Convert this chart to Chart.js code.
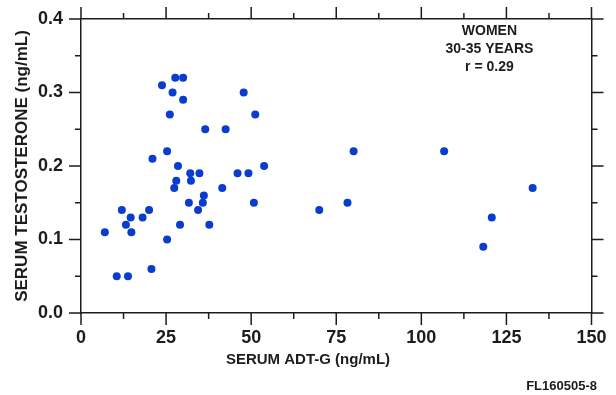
<!DOCTYPE html>
<html>
<head>
<meta charset="utf-8">
<script src="https://cdn.jsdelivr.net/npm/chart.js@4"></script>
<style>
  body { margin: 0; background: #fff; }
  #wrap { width: 616px; height: 395px; }
</style>
</head>
<body>
<div id="wrap"><canvas id="chart" width="616" height="395"></canvas></div>
<script>
// serum ADT-G (ng/mL) vs serum testosterone (ng/mL), women 30-35 years
const adtG = [
	27.7, 30.0, 23.8, 26.9, 30.0, 47.8, 26.1, 51.2, 36.5, 42.5,
	25.3, 21.0, 28.5, 53.8, 32.1, 34.8, 46.0, 49.2, 28.0, 32.3,
	27.4, 41.5, 36.1, 31.7, 35.8, 50.8, 12.0, 20.0, 34.4, 14.6,
	18.1, 13.2, 29.1, 37.7, 7.0, 14.8, 25.3, 20.7, 10.5, 13.8,
	80.1, 106.7, 70.0, 78.3, 120.7, 118.2, 132.7,
];
const testosterone = [
	0.32, 0.32, 0.31, 0.30, 0.29, 0.30, 0.27, 0.27, 0.25, 0.25,
	0.22, 0.21, 0.20, 0.20, 0.19, 0.19, 0.19, 0.19, 0.18, 0.18,
	0.17, 0.17, 0.16, 0.15, 0.15, 0.15, 0.14, 0.14, 0.14, 0.13,
	0.13, 0.12, 0.12, 0.12, 0.11, 0.11, 0.10, 0.06, 0.05, 0.05,
	0.22, 0.22, 0.14, 0.15, 0.13, 0.09, 0.17,
];
const xTicks = [0, 25, 50, 75, 100, 125, 150];
const yTicks = [0.0, 0.1, 0.2, 0.3, 0.4];
const noteLines = ["WOMEN", "30-35 YEARS", "r = 0.29"];
const figCode = "FL160505-8";

const FONT = "'Liberation Sans', Arial, Helvetica, sans-serif";
const INK = "#1c1c1c";
const DOT = "#0a3ccf";

const points = adtG.map((x, i) => ({ x: x, y: testosterone[i] }));

// outward tick marks on all four sides, major + minor
const frameTicks = {
	id: "frameTicks",
	afterDraw(chart) {
		const ctx = chart.ctx;
		const s = chart.scales;
		const major = 12;
		const minor = 6;
		ctx.save();
		ctx.strokeStyle = INK;
		ctx.lineWidth = 1.5;
		ctx.beginPath();
		for (let i = 0; i < xTicks.length; i++) {
			const px = s.x.getPixelForValue(xTicks[i]);
			ctx.moveTo(px, s.x.top); ctx.lineTo(px, s.x.top + major);
			ctx.moveTo(px, s.x2.bottom); ctx.lineTo(px, s.x2.bottom - major);
			if (i < xTicks.length - 1) {
				const mx = s.x.getPixelForValue((xTicks[i] + xTicks[i + 1]) / 2);
				ctx.moveTo(mx, s.x.top); ctx.lineTo(mx, s.x.top + minor);
				ctx.moveTo(mx, s.x2.bottom); ctx.lineTo(mx, s.x2.bottom - minor);
			}
		}
		for (let i = 0; i < yTicks.length; i++) {
			const py = s.y.getPixelForValue(yTicks[i]);
			ctx.moveTo(s.y.right, py); ctx.lineTo(s.y.right - major, py);
			ctx.moveTo(s.y2.left, py); ctx.lineTo(s.y2.left + major, py);
			if (i < yTicks.length - 1) {
				const my = s.y.getPixelForValue((yTicks[i] + yTicks[i + 1]) / 2);
				ctx.moveTo(s.y.right, my); ctx.lineTo(s.y.right - minor, my);
				ctx.moveTo(s.y2.left, my); ctx.lineTo(s.y2.left + minor, my);
			}
		}
		ctx.stroke();

		// note in the upper right, figure code under the chart
		ctx.fillStyle = INK;
		ctx.textAlign = "center";
		ctx.textBaseline = "middle";
		ctx.font = "bold 14px " + FONT;
		const nx = s.x.getPixelForValue(120);
		const ny = s.y.getPixelForValue(0.384);
		noteLines.forEach((t, i) => ctx.fillText(t, nx, ny + i * 18));
		ctx.textAlign = "right";
		ctx.font = "bold 13px " + FONT;
		ctx.fillText(figCode, chart.width - 19, chart.height - 9);
		ctx.restore();
	},
};

const frameBorder = { display: true, color: INK, width: 1.5 };
const noGrid = { display: true, drawOnChartArea: false, drawTicks: false };

new Chart(document.getElementById("chart"), {
	type: "scatter",
	data: {
		datasets: [
			{
				data: points,
				backgroundColor: DOT,
				borderWidth: 0,
				pointRadius: 4,
				pointHoverRadius: 4,
			},
		],
	},
	options: {
		responsive: false,
		animation: false,
		layout: { padding: { left: 0, right: 0, top: 0, bottom: 26 } },
		scales: {
			x: {
				type: "linear",
				position: "bottom",
				min: 0,
				max: 150,
				afterBuildTicks: (sc) => { sc.ticks = xTicks.map((v) => ({ value: v })); },
				afterFit: (sc) => {
					sc.height = 38;
					sc.paddingLeft = 0;
					sc.paddingRight = 0;
				},
				grid: noGrid,
				border: frameBorder,
				ticks: {
					padding: 14,
					color: INK,
					font: { family: FONT, size: 18, weight: "bold" },
					callback: (v) => String(v),
				},
			},
			x2: {
				type: "linear",
				position: "top",
				min: 0,
				max: 150,
				afterFit: (sc) => { sc.height = 19; },
				grid: noGrid,
				border: frameBorder,
				ticks: { display: false },
			},
			y: {
				type: "linear",
				position: "left",
				min: 0,
				max: 0.4,
				afterBuildTicks: (sc) => { sc.ticks = yTicks.map((v) => ({ value: v })); },
				afterFit: (sc) => {
					sc.width = 81;
					sc.paddingTop = 0;
					sc.paddingBottom = 0;
				},
				grid: noGrid,
				border: frameBorder,
				ticks: {
					padding: 18,
					color: INK,
					font: { family: FONT, size: 18, weight: "bold" },
					callback: (v) => Number(v).toFixed(1),
				},
				title: {
					display: true,
					text: "SERUM TESTOSTERONE (ng/mL)",
					color: INK,
					padding: { top: 12, bottom: 0 },
					font: { family: FONT, size: 17, weight: "bold" },
				},
			},
			y2: {
				type: "linear",
				position: "right",
				min: 0,
				max: 0.4,
				afterFit: (sc) => { sc.width = 24.5; },
				grid: noGrid,
				border: frameBorder,
				ticks: { display: false },
			},
		},
		plugins: {
			legend: { display: false },
			tooltip: { enabled: false },
			title: {
				display: true,
				position: "bottom",
				text: "SERUM ADT-G (ng/mL)",
				color: INK,
				padding: { top: 0, bottom: 0 },
				font: { family: FONT, size: 15, weight: "bold" },
			},
		},
	},
	plugins: [frameTicks],
});
</script>
</body>
</html>
